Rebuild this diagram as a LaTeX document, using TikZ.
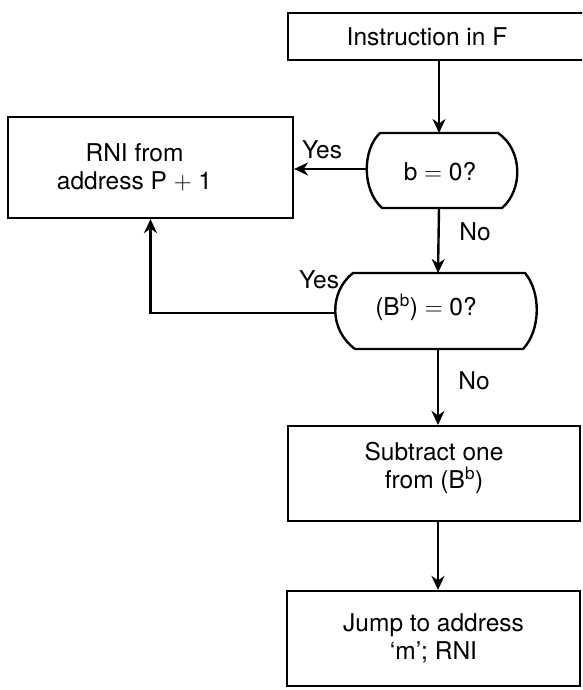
\documentclass[tikz,border=0pt]{standalone}
\usepackage{fontspec}
\setmainfont{TeX Gyre Heros}
\usetikzlibrary{arrows.meta}
\begin{document}
\begin{tikzpicture}[x=1pt,y=-1pt,
  every node/.style={font=\fontsize{24.5}{28}\selectfont},
  box/.style={draw, line width=2.2pt, rectangle, inner sep=0pt, align=center},
  conn/.style={line width=2.4pt, -{Stealth[length=14pt,width=13pt,inset=4.5pt]}},
  lab/.style={inner sep=0pt},
  decision/.style={draw, line width=2.4pt, line join=round}
]
\useasboundingbox (0,0) rectangle (582,690);
\clip (0,0) rectangle (582,690);

% boxes
\node[box, minimum width=312pt, minimum height=47pt] (top) at (444,36.5) {\hspace*{-34pt}Instruction in F};
\node[box, minimum width=285pt, minimum height=101pt] (rni) at (150.5,167.5) {RNI from\hspace*{32pt}\\address P $+$ 1\hspace*{32pt}};
\node[box, minimum width=292pt, minimum height=95pt] (sub) at (434,473.5) {Subtract one\\from (B$^{\mathrm{b}}$)\rule[-17pt]{0pt}{0pt}};
\node[box, minimum width=293pt, minimum height=95pt] (jump) at (433.5,638.5) {Jump to address\\`m'; RNI};

% decision 1
\draw[decision] (380,133) -- (498,133) .. controls (523,150) and (523,190) .. (502,208)
  -- (382,208) .. controls (362,190) and (362,150) .. cycle;
\node (d1) at (440,172) {b $=$ 0?};
\coordinate (d1n) at (439,133);
\coordinate (d1s) at (439,208);
\coordinate (d1w) at (367,169);

% decision 2
\draw[decision] (353,273) -- (525,273) .. controls (541,292) and (541,330) .. (523,349)
  -- (355,349) .. controls (329,330) and (329,292) .. cycle;
\node (d2) at (426,307) {(B$^{\mathrm{b}}$) $=$ 0?};
\coordinate (d2n) at (438,273);
\coordinate (d2s) at (438,349);
\coordinate (d2w) at (335,313);

% labels
\node[lab] (yes1) at (322,150) {Yes};
\node[lab] (no1) at (475,232) {No};
\node[lab] (yes2) at (319,280) {Yes};
\node[lab] (no2) at (474,381) {No};

% connectors
\draw[conn] (top.south -| d1n) -- (d1n);
\draw[conn] (d1w) -- (d1w -| rni.east);
\draw[conn] (d1s) -- (d2n);
\draw[conn] (d2w) -| (rni.south);
\draw[conn] (d2s) -- (d2s |- sub.north);
\draw[conn] (sub.south -| d2s) -- (jump.north -| d2s);
\end{tikzpicture}
\end{document}
